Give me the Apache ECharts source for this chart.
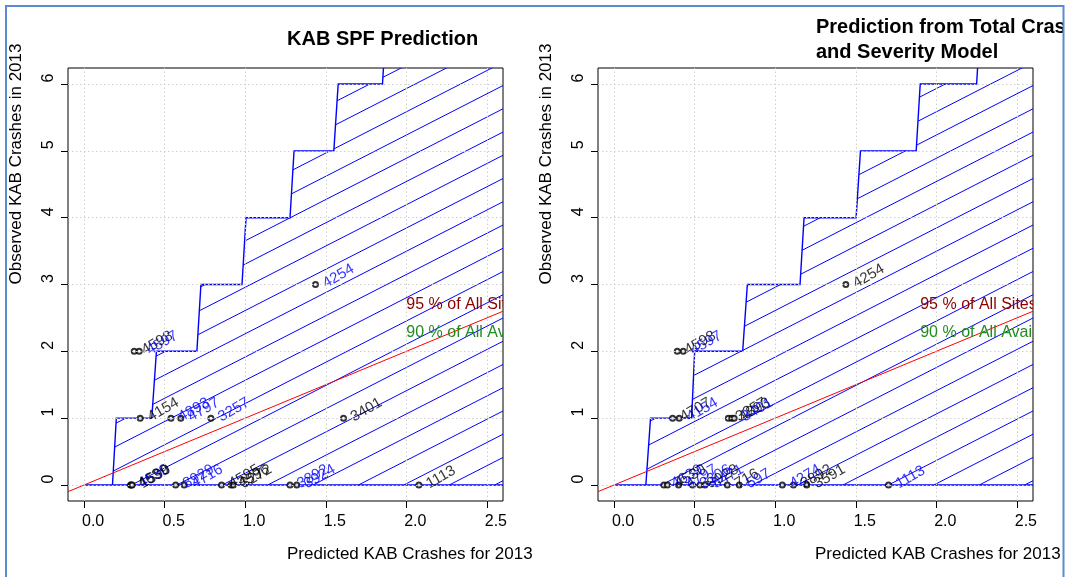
<!DOCTYPE html>
<html><head><meta charset="utf-8">
<script src="https://cdn.jsdelivr.net/npm/echarts@6/dist/echarts.min.js"></script>
<style>html,body{margin:0;padding:0;background:#fff}#c{width:1068px;height:577px}</style>
</head><body><div id="c"></div>
<script>
// ---- data ----
const xTicks = [0, 0.5, 1, 1.5, 2, 2.5];
const yTicks = [0, 1, 2, 3, 4, 5, 6];
const xLim = [-0.1, 2.6];
const yLim = [-0.24, 6.24];

// upper step boundary of the hatched region
const stepY      = [0, 0,     1,     1,     2,     2,     3,     3,     4,     4,     5,     5,     6,     6,     7,     7];
const leftStepX  = [0, 0.176, 0.200, 0.420, 0.449, 0.700, 0.725, 0.980, 1.005, 1.278, 1.303, 1.550, 1.577, 1.852, 1.877, 2.7];
const rightStepX = [0, 0.197, 0.226, 0.481, 0.500, 0.798, 0.827, 1.154, 1.179, 1.502, 1.529, 1.875, 1.900, 2.250, 2.275, 2.7];

// sites: predicted (x), observed (y), id label
const leftPredX = [0.288, 0.293, 0.298, 0.568, 0.621, 0.853, 0.912, 0.926, 1.278, 1.320, 2.078, 0.348, 0.539, 0.600, 0.787, 1.610, 0.311, 0.342, 1.436];
const leftObsY  = [0, 0, 0, 0, 0, 0, 0, 0, 0, 0, 0, 1, 1, 1, 1, 1, 2, 2, 3];
const leftIds   = ['4639','4530','1590','8929','4716','4595','4596','3272','3892','3924','1113','4154','4893','4797','3257','3401','4598','4597','4254'];
const leftIdCol = ['k','b','k','b','b','k','k','k','b','b','k','k','b','b','b','k','k','b','b'];

const rightPredX = [0.309, 0.331, 0.400, 0.487, 0.533, 0.564, 0.703, 0.777, 1.044, 1.113, 1.196, 1.703, 0.363, 0.404, 0.709, 0.730, 0.745, 0.392, 0.429, 1.438];
const rightObsY  = [0, 0, 0, 0, 0, 0, 0, 0, 0, 0, 0, 0, 1, 1, 1, 1, 1, 2, 2, 3];
const rightIds   = ['4639','4530','4797','3306','8928','5471','716','597','4274','3892','3591','1113','4707','4154','3257','4893','3401','4598','4597','4254'];
const rightIdCol = ['b','k','b','b','k','b','k','b','b','k','k','b','k','b','k','k','b','k','b','k'];

// threshold annotations
const annoText = ['95 % of All Sites', '90 % of All Available'];
const annoY = [2.7, 2.28];
const leftAnnoX = 2.0;
const rightAnnoX = 1.9;

// ---- styles ----
const FONT = '"Liberation Sans", Arial, Helvetica, sans-serif';
const BLUE = '#0000ff';
const colMap = {k: '#000000', b: '#0000ff'};
const annoCols = ['#8b0000', '#228b22'];
const G = [{left: 68, top: 68, width: 435, height: 433}, {left: 598, top: 68, width: 435, height: 433}];

function hatchSeries(g, stepX) {
  return {
    type: 'custom', xAxisIndex: g, yAxisIndex: g, clip: true, silent: true, z: 2,
    data: [[0, 0]],
    renderItem: function (params, api) {
      const pts = stepX.map((x, i) => api.coord([x, stepY[i]]));
      pts.push(api.coord([stepX[stepX.length - 1], 0]));
      const o = api.coord([0, 0]);
      const slope = 0.512, gap = 45.4, phase = 2;
      const cv = p => (p[0] - o[0]) + (p[1] - o[1]) / slope;
      const cs = pts.map(cv);
      const cmin = Math.min.apply(null, cs), cmax = Math.max.apply(null, cs);
      const children = [];
      for (let k = Math.ceil((cmin - phase) / gap); phase + k * gap <= cmax; k++) {
        const c = phase + k * gap;
        const hits = [];
        for (let i = 0; i < pts.length; i++) {
          const j = (i + 1) % pts.length;
          const ca = cs[i], cb = cs[j];
          if ((ca <= c && cb > c) || (cb <= c && ca > c)) {
            const t = (c - ca) / (cb - ca);
            hits.push([pts[i][0] + t * (pts[j][0] - pts[i][0]), pts[i][1] + t * (pts[j][1] - pts[i][1])]);
          }
        }
        hits.sort((a, b) => a[0] - b[0]);
        for (let m = 0; m + 1 < hits.length; m += 2) {
          children.push({type: 'line', shape: {x1: hits[m][0], y1: hits[m][1], x2: hits[m + 1][0], y2: hits[m + 1][1]},
            style: {stroke: BLUE, lineWidth: 1}});
        }
      }
      children.push({type: 'polygon', shape: {points: pts}, style: {fill: 'none', stroke: BLUE, lineWidth: 1.4}});
      return {type: 'group', children: children};
    }
  };
}

function gridLineSeries(g) {
  return {
    type: 'line', xAxisIndex: g, yAxisIndex: g, data: [], z: 1, silent: true,
    markLine: {
      symbol: 'none', silent: true, animation: false, label: {show: false},
      lineStyle: {color: '#cfcfcf', width: 1, type: [1.5, 2.5]},
      data: xTicks.map(v => ({xAxis: v})).concat(yTicks.map(v => ({yAxis: v})))
    }
  };
}

function diagSeries(g) {
  return {
    type: 'line', xAxisIndex: g, yAxisIndex: g, z: 3, silent: true, symbol: 'none',
    lineStyle: {color: '#ff0000', width: 1},
    data: xLim.map(v => [v, v])
  };
}

function pointSeries(g, xs, ys, ids, cols) {
  return {
    type: 'scatter', xAxisIndex: g, yAxisIndex: g, z: 4, silent: true,
    symbol: 'emptyCircle', symbolSize: 5,
    itemStyle: {color: '#000', borderColor: '#000', borderWidth: 1},
    data: xs.map((x, i) => ({
      value: [x, ys[i]], name: ids[i],
      label: {show: true, position: 'right', distance: 5, rotate: 30, formatter: ids[i],
        color: colMap[cols[i]], fontSize: 15, fontFamily: FONT}
    }))
  };
}

function annoSeries(g, ax) {
  return {
    type: 'custom', xAxisIndex: g, yAxisIndex: g, clip: true, silent: true, z: 5,
    data: annoY.map((y, i) => [ax, y, i]),
    renderItem: function (params, api) {
      const i = params.dataIndex;
      const p = api.coord([api.value(0), api.value(1)]);
      return {type: 'text', x: p[0], y: p[1],
        style: {text: annoText[i], fill: annoCols[i], fontSize: 16, fontFamily: FONT, align: 'left', verticalAlign: 'middle'}};
    }
  };
}

function xAxisDef(g) {
  return {
    type: 'value', gridIndex: g, min: xLim[0], max: xLim[1],
    axisLine: {show: false, onZero: false},
    axisTick: {show: true, customValues: xTicks, length: 7, lineStyle: {color: '#000', width: 1}},
    axisLabel: {customValues: xTicks, formatter: v => v.toFixed(1), fontSize: 16, color: '#000',
      fontFamily: FONT, margin: 13, padding: [0, 0, 0, 18]},
    splitLine: {show: false}
  };
}
function yAxisDef(g) {
  return {
    type: 'value', gridIndex: g, min: yLim[0], max: yLim[1],
    axisLine: {show: false, onZero: false},
    axisTick: {show: true, customValues: yTicks, length: 7, lineStyle: {color: '#000', width: 1}},
    axisLabel: {customValues: yTicks, formatter: v => String(v), fontSize: 16, color: '#000',
      fontFamily: FONT, margin: 11, rotate: 90, padding: [0, 0, 0, 12]},
    splitLine: {show: false}
  };
}

function txt(x, y, s, size, bold, rot, align) {
  return {type: 'text', x: x, y: y, rotation: rot || 0, z: 50,
    style: {text: s, fill: '#000', fontSize: size, fontWeight: bold ? 'bold' : 'normal', fontFamily: FONT,
      align: align || 'left', verticalAlign: 'middle'}};
}

const chart = echarts.init(document.getElementById('c'), null, {renderer: 'canvas'});
chart.setOption({
  animation: false,
  backgroundColor: '#ffffff',
  textStyle: {fontFamily: FONT},
  grid: G.map(g => Object.assign({show: true, borderColor: '#000', borderWidth: 1, backgroundColor: 'transparent', containLabel: false}, g)),
  xAxis: [xAxisDef(0), xAxisDef(1)],
  yAxis: [yAxisDef(0), yAxisDef(1)],
  series: [
    gridLineSeries(0), gridLineSeries(1),
    hatchSeries(0, leftStepX), hatchSeries(1, rightStepX),
    diagSeries(0), diagSeries(1),
    pointSeries(0, leftPredX, leftObsY, leftIds, leftIdCol),
    pointSeries(1, rightPredX, rightObsY, rightIds, rightIdCol),
    annoSeries(0, leftAnnoX), annoSeries(1, rightAnnoX)
  ],
  graphic: [
    txt(287, 39, 'KAB SPF Prediction', 20, true),
    txt(816, 27, 'Prediction from Total Crashes', 20, true),
    txt(816, 52, 'and Severity Model', 20, true),
    txt(287, 554, 'Predicted KAB Crashes for 2013', 17, false),
    txt(815, 554, 'Predicted KAB Crashes for 2013', 17, false),
    txt(16, 164, 'Observed KAB Crashes in 2013', 17, false, Math.PI / 2, 'center'),
    txt(546, 164, 'Observed KAB Crashes in 2013', 17, false, Math.PI / 2, 'center'),
    {type: 'rect', z: 90, shape: {x: 1064, y: 0, width: 10, height: 577}, style: {fill: '#ffffff'}},
    {type: 'polyline', z: 91, shape: {points: [[6, 577], [6, 6], [1063.5, 6], [1063.5, 577]]},
      style: {stroke: '#5b8bd0', lineWidth: 2, fill: 'none'}}
  ]
});
</script></body></html>
